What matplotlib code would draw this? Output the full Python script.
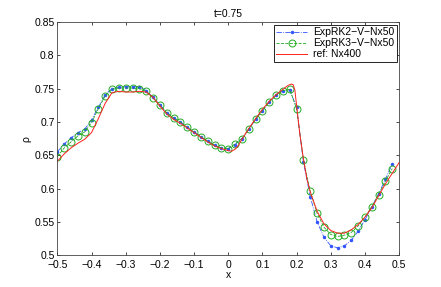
import numpy as np
import matplotlib
matplotlib.use('Agg')
import matplotlib.pyplot as plt
from matplotlib.ticker import FuncFormatter

plt.rcParams['font.family'] = ['Liberation Sans', 'DejaVu Sans']

# coarse grid, Nx50
x50 = np.round(np.arange(-0.5, 0.49, 0.02), 2)

rho_rk2 = [0.655, 0.667, 0.676, 0.684, 0.689, 0.703, 0.722, 0.741, 0.750, 0.752,
           0.753, 0.753, 0.753, 0.747, 0.737, 0.726, 0.714, 0.706, 0.700, 0.692,
           0.685, 0.678, 0.671, 0.665, 0.661, 0.660, 0.666, 0.675, 0.689, 0.704,
           0.717, 0.730, 0.740, 0.747, 0.748, 0.722, 0.640, 0.588, 0.550, 0.527,
           0.514, 0.511, 0.514, 0.522, 0.536, 0.553, 0.572, 0.592, 0.614, 0.637]

rho_rk3 = [0.648, 0.661, 0.670, 0.679, 0.685, 0.699, 0.720, 0.739, 0.749, 0.751,
           0.751, 0.751, 0.750, 0.746, 0.736, 0.725, 0.714, 0.706, 0.700, 0.692,
           0.685, 0.678, 0.671, 0.665, 0.661, 0.660, 0.667, 0.675, 0.689, 0.704,
           0.717, 0.730, 0.740, 0.747, 0.749, 0.720, 0.643, 0.596, 0.563, 0.542,
           0.531, 0.528, 0.530, 0.534, 0.544, 0.557, 0.573, 0.591, 0.611, 0.630]

# reference solution, Nx400
x_ref = [-0.5, -0.48, -0.46, -0.44, -0.42, -0.40, -0.38, -0.36, -0.34, -0.32,
         -0.30, -0.28, -0.26, -0.24, -0.22, -0.20, -0.18, -0.16, -0.14, -0.12,
         -0.10, -0.08, -0.06, -0.04, -0.02, 0.0, 0.01, 0.02, 0.03, 0.04,
         0.06, 0.08, 0.10, 0.12, 0.14, 0.16, 0.175, 0.185, 0.19, 0.195,
         0.20, 0.21, 0.22, 0.23, 0.24, 0.26, 0.28, 0.30, 0.32, 0.34,
         0.36, 0.38, 0.40, 0.42, 0.44, 0.46, 0.48, 0.50]
rho_ref = [0.641, 0.652, 0.661, 0.668, 0.674, 0.684, 0.705, 0.728, 0.744, 0.746,
           0.745, 0.745, 0.746, 0.745, 0.737, 0.724, 0.712, 0.704, 0.698, 0.691,
           0.684, 0.677, 0.670, 0.664, 0.660, 0.657, 0.656, 0.659, 0.665, 0.674,
           0.690, 0.705, 0.719, 0.731, 0.741, 0.749, 0.755, 0.757, 0.756, 0.748,
           0.725, 0.680, 0.645, 0.615, 0.595, 0.566, 0.547, 0.537, 0.533, 0.533,
           0.538, 0.546, 0.557, 0.571, 0.589, 0.607, 0.623, 0.639]

xticks = [-0.5, -0.4, -0.3, -0.2, -0.1, 0, 0.1, 0.2, 0.3, 0.4, 0.5]
yticks = [0.5, 0.55, 0.6, 0.65, 0.7, 0.75, 0.8, 0.85]

fmt = FuncFormatter(lambda v, p: ('%g' % round(v, 4)).replace('-', '\u2212'))

fig = plt.figure(figsize=(4.41, 2.87), dpi=100)
ax = fig.add_axes([0.130, 0.111, 0.775, 0.812])

ax.plot(x50, rho_rk2, '-.', color='#3355ff', marker='.', markersize=3,
        linewidth=0.6, label='ExpRK2\u2212V\u2212Nx50')
ax.plot(x50, rho_rk3, '--', color='#22aa22', marker='o', markersize=5,
        markerfacecolor='none', markeredgewidth=0.7, linewidth=0.6,
        label='ExpRK3\u2212V\u2212Nx50')
ax.plot(x_ref, rho_ref, '-', color='#ff2020', linewidth=0.7, label='ref: Nx400')

ax.set_xlim(-0.5, 0.5)
ax.set_ylim(0.5, 0.85)
ax.set_xticks(xticks)
ax.set_yticks(yticks)
ax.xaxis.set_major_formatter(fmt)
ax.yaxis.set_major_formatter(fmt)
ax.tick_params(direction='in', top=True, right=True, labelsize=7.5,
               length=2.5, width=0.5)
ax.tick_params(axis='x', pad=3.5)
ax.tick_params(axis='y', pad=2)
for s in ax.spines.values():
    s.set_linewidth(0.6)
    s.set_color('#444444')

ax.set_title('t=0.75', fontsize=7.5, pad=4)
ax.set_xlabel('x', fontsize=7.5, labelpad=0)
ax.set_ylabel('\u03c1', fontsize=7.5, labelpad=2)

leg = ax.legend(loc='upper right', fontsize=7.5, fancybox=False, framealpha=1,
                edgecolor='black', borderaxespad=0.25, handlelength=3.0,
                borderpad=0.25, labelspacing=0.1, handletextpad=0.5)
leg.get_frame().set_linewidth(0.6)

fig.savefig('out.png', dpi=100)
